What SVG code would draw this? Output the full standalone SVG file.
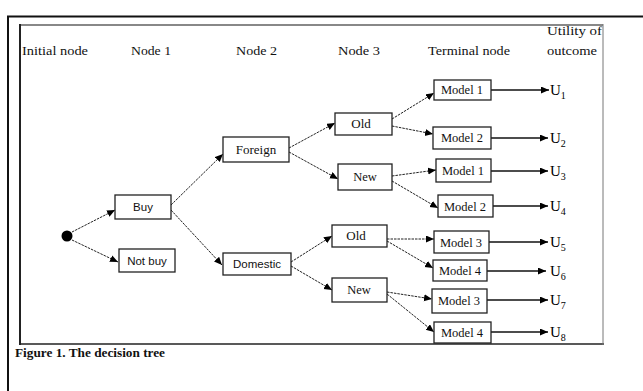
<svg xmlns="http://www.w3.org/2000/svg" width="643" height="391" viewBox="0 0 643 391">
<style>
.hdr{font-family:"Liberation Serif",serif;font-size:13px;fill:#111}
.bx{fill:#fff;stroke:#222;stroke-width:1.3}
.ts{font-family:"Liberation Serif",serif;font-size:12.5px;fill:#111;text-anchor:middle}
.ss{font-family:"Liberation Sans",sans-serif;font-size:11.5px;fill:#111;text-anchor:middle}
.u{font-family:"Liberation Serif",serif;font-size:15px;fill:#000}
.dc{stroke:#222;stroke-width:1;stroke-dasharray:2.5 1;fill:none}
.hc{stroke:#111;stroke-width:1.3;fill:none}
</style>
<defs>
<marker id="ah" markerUnits="userSpaceOnUse" markerWidth="9" markerHeight="8" refX="8" refY="3.5" orient="auto">
<path d="M0,0 L8,3.5 L0,7 z" fill="#000"/>
</marker>
</defs>
<rect width="643" height="391" fill="#fff"/>
<g id="frame">
<line x1="7" y1="16.5" x2="643" y2="16.5" stroke="#111" stroke-width="2.2"/>
<line x1="8" y1="16" x2="8" y2="391" stroke="#111" stroke-width="2"/>
<line x1="19" y1="25" x2="603" y2="25" stroke="#888" stroke-width="2"/>
<line x1="20" y1="24" x2="20" y2="345" stroke="#222" stroke-width="2"/>
<line x1="20" y1="344" x2="604" y2="344" stroke="#222" stroke-width="1.6"/>
<line x1="603" y1="24" x2="603" y2="345" stroke="#777" stroke-width="1"/>
</g>
<g id="headers">
<text class="hdr" x="22" y="55" textLength="66" lengthAdjust="spacingAndGlyphs">Initial node</text>
<text class="hdr" x="131" y="55" textLength="40" lengthAdjust="spacingAndGlyphs">Node 1</text>
<text class="hdr" x="236" y="55" textLength="41" lengthAdjust="spacingAndGlyphs">Node 2</text>
<text class="hdr" x="338" y="55" textLength="42" lengthAdjust="spacingAndGlyphs">Node 3</text>
<text class="hdr" x="428" y="55" textLength="82" lengthAdjust="spacingAndGlyphs">Terminal node</text>
<text class="hdr" x="547" y="35" textLength="55" lengthAdjust="spacingAndGlyphs">Utility of</text>
<text class="hdr" x="547" y="55" textLength="50" lengthAdjust="spacingAndGlyphs">outcome</text>
</g>
<g id="connectors">
<line class="dc" x1="72" y1="232" x2="115" y2="210" marker-end="url(#ah)"/>
<line class="dc" x1="72" y1="240" x2="118" y2="262" marker-end="url(#ah)"/>
<line class="dc" x1="171" y1="205" x2="223" y2="154" marker-end="url(#ah)"/>
<line class="dc" x1="171" y1="210" x2="222" y2="265" marker-end="url(#ah)"/>
<line class="dc" x1="289" y1="148" x2="335" y2="123" marker-end="url(#ah)"/>
<line class="dc" x1="289" y1="152" x2="338" y2="179" marker-end="url(#ah)"/>
<line class="dc" x1="291" y1="262" x2="332" y2="236" marker-end="url(#ah)"/>
<line class="dc" x1="291" y1="266" x2="332" y2="290" marker-end="url(#ah)"/>
<line class="dc" x1="392" y1="119" x2="434" y2="93" marker-end="url(#ah)"/>
<line class="dc" x1="392" y1="126" x2="433" y2="134" marker-end="url(#ah)"/>
<line class="dc" x1="392" y1="176" x2="436" y2="170" marker-end="url(#ah)"/>
<line class="dc" x1="392" y1="181" x2="438" y2="208" marker-end="url(#ah)"/>
<line class="dc" x1="387" y1="239" x2="434" y2="239" marker-end="url(#ah)"/>
<line class="dc" x1="387" y1="241" x2="433" y2="268" marker-end="url(#ah)"/>
<line class="dc" x1="387" y1="292" x2="432" y2="299" marker-end="url(#ah)"/>
<line class="dc" x1="387" y1="294" x2="434" y2="332" marker-end="url(#ah)"/>
<line class="hc" x1="491" y1="90" x2="549" y2="90" marker-end="url(#ah)"/>
<line class="hc" x1="491" y1="138" x2="548" y2="138" marker-end="url(#ah)"/>
<line class="hc" x1="491" y1="171" x2="548" y2="171" marker-end="url(#ah)"/>
<line class="hc" x1="483" y1="206" x2="548" y2="206" marker-end="url(#ah)"/>
<line class="hc" x1="489" y1="242" x2="548" y2="242" marker-end="url(#ah)"/>
<line class="hc" x1="480" y1="271" x2="546" y2="271" marker-end="url(#ah)"/>
<line class="hc" x1="487" y1="300" x2="548" y2="300" marker-end="url(#ah)"/>
<line class="hc" x1="491" y1="332" x2="548" y2="332" marker-end="url(#ah)"/>
</g>
<g id="initial"><circle cx="67" cy="236" r="5.5" fill="#000"/></g>
<g id="buy"><rect class="bx" x="115" y="195" width="56" height="24"/><text class="ss" x="143" y="211">Buy</text></g>
<g id="notbuy"><rect class="bx" x="119" y="249" width="56" height="23"/><text class="ss" x="147" y="265">Not buy</text></g>
<g id="foreign"><rect class="bx" x="223" y="137" width="66" height="25"/><text class="ts" x="256" y="154" style="font-size:13px">Foreign</text></g>
<g id="domestic"><rect class="bx" x="223" y="253" width="68" height="22"/><text class="ss" x="257" y="268">Domestic</text></g>
<g id="old1"><rect class="bx" x="335" y="113" width="57" height="22"/><text class="ts" x="361" y="128" style="font-size:13px">Old</text></g>
<g id="new1"><rect class="bx" x="338" y="164" width="54" height="26"/><text class="ts" x="365" y="181">New</text></g>
<g id="old2"><rect class="bx" x="332" y="225" width="55" height="22"/><text class="ts" x="356" y="240" style="font-size:13px">Old</text></g>
<g id="new2"><rect class="bx" x="332" y="278" width="55" height="24"/><text class="ts" x="359" y="294">New</text></g>
<g id="t1"><rect class="bx" x="434" y="80" width="57" height="20"/><text class="ts" x="462" y="94">Model 1</text></g>
<g id="t2"><rect class="bx" x="433" y="127" width="58" height="22"/><text class="ts" x="462" y="142">Model 2</text></g>
<g id="t3"><rect class="bx" x="436" y="159" width="55" height="23"/><text class="ts" x="463" y="175">Model 1</text></g>
<g id="t4"><rect class="bx" x="438" y="195" width="55" height="22"/><text class="ts" x="465" y="211">Model 2</text></g>
<g id="t5"><rect class="bx" x="434" y="231" width="55" height="22"/><text class="ts" x="461" y="247">Model 3</text></g>
<g id="t6"><rect class="bx" x="433" y="260" width="54" height="21"/><text class="ts" x="460" y="275">Model 4</text></g>
<g id="t7"><rect class="bx" x="432" y="289" width="55" height="24"/><text class="ts" x="459" y="305">Model 3</text></g>
<g id="t8"><rect class="bx" x="434" y="322" width="57" height="21"/><text class="ts" x="462" y="337">Model 4</text></g>
<g id="utilities">
<text class="u" x="550" y="95">U<tspan font-size="10" dy="4">1</tspan></text>
<text class="u" x="550" y="143">U<tspan font-size="10" dy="4">2</tspan></text>
<text class="u" x="550" y="176">U<tspan font-size="10" dy="4">3</tspan></text>
<text class="u" x="550" y="211">U<tspan font-size="10" dy="4">4</tspan></text>
<text class="u" x="550" y="247">U<tspan font-size="10" dy="4">5</tspan></text>
<text class="u" x="550" y="276">U<tspan font-size="10" dy="4">6</tspan></text>
<text class="u" x="550" y="305">U<tspan font-size="10" dy="4">7</tspan></text>
<text class="u" x="550" y="337">U<tspan font-size="10" dy="4">8</tspan></text>
</g>
<text x="15" y="357" font-family="Liberation Serif, serif" font-size="12" font-weight="bold" fill="#111" textLength="150" lengthAdjust="spacingAndGlyphs">Figure 1. The decision tree</text>
</svg>
